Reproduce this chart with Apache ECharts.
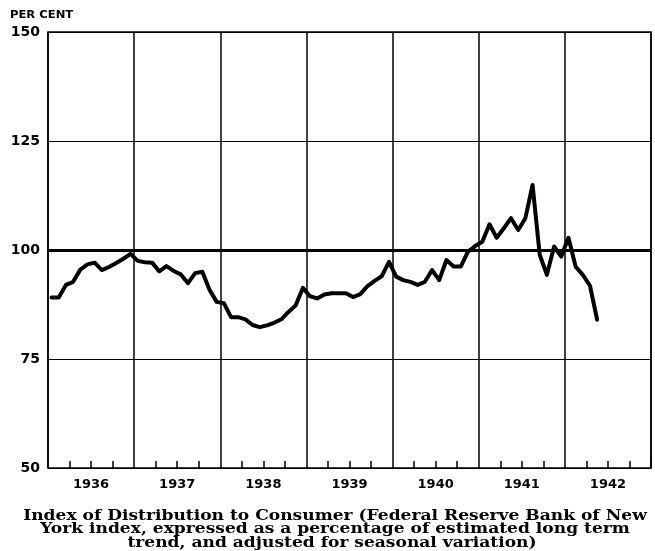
<!DOCTYPE html>
<html>
<head>
<meta charset="utf-8">
<script src="https://cdn.jsdelivr.net/npm/echarts@6/dist/echarts.min.js"></script>
<style>
html,body{margin:0;padding:0;background:#fff;}
#chart{width:655px;height:551px;}
</style>
</head>
<body>
<div id="chart"></div>
<script>
// Years shown on the x axis
var years = ['1936', '1937', '1938', '1939', '1940', '1941', '1942'];
var monthNames = ['Jan','Feb','Mar','Apr','May','Jun','Jul','Aug','Sep','Oct','Nov','Dec'];
// Y tick values
var yTicks = [50, 75, 100, 125, 150];
var referenceLevel = 100;

// Monthly index values (per cent of trend)
var v1936 = [89.1, 89.1, 92.0, 92.7, 95.5, 96.7, 97.1, 95.4, 96.1, 97.0, 98.0, 99.1];
var v1937 = [97.5, 97.2, 97.1, 95.1, 96.3, 95.2, 94.4, 92.4, 94.7, 95.0, 90.9, 88.1];
var v1938 = [87.8, 84.6, 84.6, 84.1, 82.8, 82.3, 82.7, 83.3, 84.1, 85.8, 87.3, 91.3];
var v1939 = [89.4, 88.9, 89.8, 90.1, 90.1, 90.1, 89.2, 89.9, 91.7, 92.9, 94.0, 97.3];
var v1940 = [93.9, 93.1, 92.7, 92.0, 92.7, 95.4, 93.1, 97.7, 96.2, 96.2, 99.6, 100.9];
var v1941 = [101.9, 105.9, 102.8, 105.0, 107.3, 104.6, 107.3, 114.9, 98.9, 94.3, 100.8, 98.5];
var v1942 = [102.8, 96.2, 94.3, 91.8, 84.0];

var captionLines = [
  'Index of Distribution to Consumer (Federal Reserve Bank of New',
  'York index, expressed as a percentage of estimated long term',
  'trend, and adjusted for seasonal variation)'
];

var months = [];
years.forEach(function (y) { monthNames.forEach(function (m) { months.push(y + '-' + m); }); });
var values = [].concat(v1936, v1937, v1938, v1939, v1940, v1941, v1942);

var chart = echarts.init(document.getElementById('chart'), null, {renderer: 'canvas'});
var serifFont = 'bold 14px "DejaVu Serif"';

chart.setOption({
  animation: false,
  backgroundColor: '#fff',
  grid: {left: 48, right: 4, top: 32, bottom: 83, show: true, borderColor: '#000', borderWidth: 1.5, backgroundColor: 'transparent'},
  xAxis: [
    {
      type: 'category', data: months, boundaryGap: true, position: 'bottom',
      axisLine: {show: false},
      axisLabel: {show: false},
      axisTick: {show: true, inside: true, length: 7, lineStyle: {color: '#000', width: 1.5},
        interval: function (i) { return i % 3 === 0 && i % 12 !== 0; }},
      splitLine: {show: false}
    },
    {
      type: 'category', data: years, boundaryGap: true, position: 'bottom',
      axisLine: {show: false},
      axisTick: {show: false},
      axisLabel: {show: true, color: '#000', fontFamily: 'DejaVu Sans', fontWeight: 'bold', fontSize: 13, margin: 10},
      splitLine: {show: true, lineStyle: {color: '#000', width: 1.5}}
    }
  ],
  yAxis: {
    type: 'value', min: yTicks[0], max: yTicks[yTicks.length - 1], interval: 25,
    axisLine: {show: false}, axisTick: {show: false},
    axisLabel: {color: '#000', fontFamily: 'DejaVu Sans', fontWeight: 'bold', fontSize: 14, margin: 8},
    splitLine: {show: true, lineStyle: {color: '#000', width: 1.2}}
  },
  series: [{
    type: 'line', xAxisIndex: 0, data: values, showSymbol: false, symbol: 'none',
    lineStyle: {color: '#000', width: 4, join: 'round', cap: 'round'},
    z: 5,
    markLine: {
      silent: true, symbol: 'none', label: {show: false},
      lineStyle: {color: '#000', width: 3, type: 'solid'},
      data: [{yAxis: referenceLevel}]
    }
  }],
  graphic: [
    {type: 'text', x: 10, y: 10, scaleX: 1.05, style: {text: 'PER CENT', font: 'bold 11px "DejaVu Sans"', fill: '#000'}},
    {type: 'text', x: 335, y: 509, scaleX: 1.22, style: {text: captionLines[0], font: serifFont, fill: '#000', textAlign: 'center', textVerticalAlign: 'top'}},
    {type: 'text', x: 335, y: 522.5, scaleX: 1.22, style: {text: captionLines[1], font: serifFont, fill: '#000', textAlign: 'center', textVerticalAlign: 'top'}},
    {type: 'text', x: 332, y: 536, scaleX: 1.22, style: {text: captionLines[2], font: serifFont, fill: '#000', textAlign: 'center', textVerticalAlign: 'top'}}
  ]
});
</script>
</body>
</html>
